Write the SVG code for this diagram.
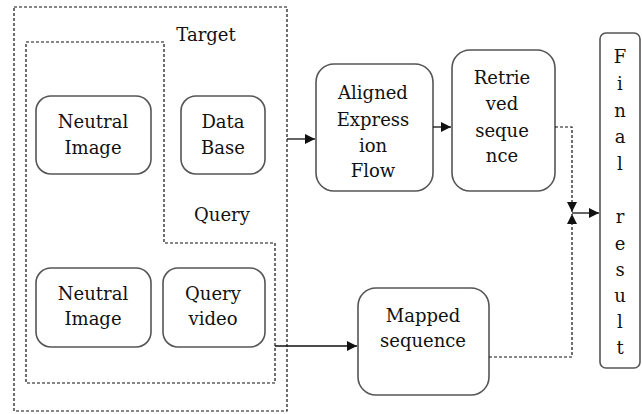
<svg xmlns="http://www.w3.org/2000/svg" width="642" height="414" viewBox="0 0 642 414">
  <style>
    .box { fill: #fff; stroke: #555; stroke-width: 1.6; }
    .dash { fill: none; stroke: #111; stroke-width: 1.2; stroke-dasharray: 3 2; }
    .line { fill: none; stroke: #111; stroke-width: 1.3; }
    .dline { fill: none; stroke: #111; stroke-width: 1.2; stroke-dasharray: 3 2; }
    .lbl { font-family: 'DejaVu Serif', 'Liberation Serif', serif; font-size: 18px; fill: #111; text-anchor: middle; }
  </style>
  <defs>
    <marker id="arr" viewBox="0 0 10 10" refX="10" refY="5" markerWidth="11" markerHeight="10" markerUnits="userSpaceOnUse" orient="auto">
      <path d="M0,0 L10,5 L0,10 z" fill="#111"/>
    </marker>
  </defs>

  <!-- containers -->
  <g id="containers">
    <rect class="dash" x="14" y="7" width="273" height="404"/>
    <path class="dash" d="M26,42 H164 V243 H275 V383 H26 Z"/>
    <text class="lbl" x="206" y="41">Target</text>
    <text class="lbl" x="222" y="221">Query</text>
  </g>

  <!-- nodes -->
  <g id="neutral-target">
    <rect class="box" x="36" y="96" width="115" height="78" rx="15"/>
    <text class="lbl" x="93" y="128">Neutral</text>
    <text class="lbl" x="93" y="154">Image</text>
  </g>
  <g id="database">
    <rect class="box" x="181" y="96" width="84" height="78" rx="15"/>
    <text class="lbl" x="223" y="128">Data</text>
    <text class="lbl" x="223" y="154">Base</text>
  </g>
  <g id="neutral-query">
    <rect class="box" x="36" y="268" width="115" height="79" rx="15"/>
    <text class="lbl" x="93" y="300">Neutral</text>
    <text class="lbl" x="93" y="325">Image</text>
  </g>
  <g id="query-video">
    <rect class="box" x="163" y="268" width="102" height="79" rx="15"/>
    <text class="lbl" x="213" y="300">Query</text>
    <text class="lbl" x="213" y="325">video</text>
  </g>
  <g id="aligned">
    <rect class="box" x="316" y="64" width="117" height="127" rx="18"/>
    <text class="lbl" x="373" y="99">Aligned</text>
    <text class="lbl" x="373" y="126">Express</text>
    <text class="lbl" x="373" y="152">ion</text>
    <text class="lbl" x="373" y="177">Flow</text>
  </g>
  <g id="retrieved">
    <rect class="box" x="452" y="50" width="103" height="141" rx="18"/>
    <text class="lbl" x="502" y="84">Retrie</text>
    <text class="lbl" x="502" y="110">ved</text>
    <text class="lbl" x="502" y="137">seque</text>
    <text class="lbl" x="502" y="162">nce</text>
  </g>
  <g id="mapped">
    <rect class="box" x="358" y="288" width="131" height="107" rx="18"/>
    <text class="lbl" x="423" y="322">Mapped</text>
    <text class="lbl" x="423" y="347">sequence</text>
  </g>
  <g id="final">
    <rect class="box" x="600" y="33" width="40" height="335" rx="6"/>
    <text class="lbl" x="620" y="63">F</text>
    <text class="lbl" x="620" y="90">i</text>
    <text class="lbl" x="620" y="117">n</text>
    <text class="lbl" x="620" y="143">a</text>
    <text class="lbl" x="620" y="170">l</text>
    <text class="lbl" x="620" y="223">r</text>
    <text class="lbl" x="620" y="250">e</text>
    <text class="lbl" x="620" y="276">s</text>
    <text class="lbl" x="620" y="302">u</text>
    <text class="lbl" x="620" y="328">l</text>
    <text class="lbl" x="620" y="354">t</text>
  </g>

  <!-- connectors -->
  <g id="connectors">
    <path class="line" d="M287,139 H315" marker-end="url(#arr)"/>
    <path class="line" d="M433,127 H451" marker-end="url(#arr)"/>
    <path class="line" d="M275,346 H357" marker-end="url(#arr)"/>
    <path class="dline" d="M555,127 H572 V212" marker-end="url(#arr)"/>
    <path class="dline" d="M489,357 H572 V214" marker-end="url(#arr)"/>
    <path class="line" d="M572,213 H599" marker-end="url(#arr)"/>
  </g>
</svg>
